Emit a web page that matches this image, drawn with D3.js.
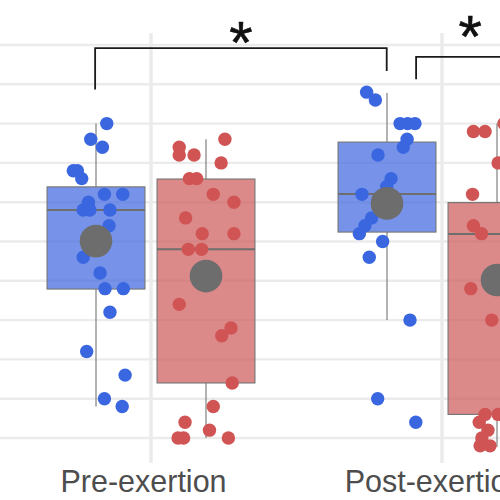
<!DOCTYPE html>
<html>
<head>
<meta charset="utf-8">
<script src="https://cdn.jsdelivr.net/npm/d3@7"></script>
<style>
  html, body { margin: 0; padding: 0; background: #fff; }
  svg { display: block; }
</style>
</head>
<body>
<div id="chart"></div>
<script>
// ---------- data ----------
const categories = ["Pre-exertion", "Post-exertion"];
const groups = ["Group A", "Group B"];
const gridValues = [0, 1, 2, 3, 4, 5, 6, 7, 8, 9, 10];

// individual observations (values) and horizontal jitter (category units)
const preA = [8.0, 7.6, 7.4, 6.8, 6.8, 6.6, 6.2, 6.2, 6.0, 5.8, 5.8, 5.8, 5.4, 4.6, 4.2, 3.8, 3.8, 3.2, 2.2, 1.6, 1.0, 0.8];
const preAJitter = [0.037, -0.018, 0.022, -0.078, -0.064, -0.049, 0.029, 0.092, -0.026, -0.044, -0.021, 0.048, 0.045, -0.044, 0.014, 0.031, 0.094, 0.048, -0.032, 0.1, 0.029, 0.090];

const preB = [7.6, 7.4, 7.2, 7.2, 7.0, 6.6, 6.6, 6.2, 6.0, 5.6, 5.2, 5.2, 4.8, 4.8, 3.4, 2.8, 2.6, 1.4, 0.8, 0.4, 0.2, 0, 0, 0];
const preBJitter = [0.065, -0.092, -0.092, -0.041, 0.052, -0.057, -0.032, 0.025, 0.096, -0.070, -0.013, 0.096, -0.061, -0.015, -0.092, 0.086, 0.054, 0.090, 0.025, -0.072, 0.012, -0.096, -0.077, 0.077];

const postA = [8.8, 8.6, 8.0, 8.0, 8.0, 7.6, 7.4, 7.2, 6.6, 6.4, 6.2, 5.6, 5.4, 5.2, 5.0, 4.6, 3.0, 1.0, 0.4];
const postAJitter = [-0.070, -0.040, 0.045, 0.071, 0.096, 0.069, 0.056, -0.031, 0.014, -0.001, -0.086, -0.053, -0.076, -0.095, -0.015, -0.061, 0.079, -0.032, 0.099];

const postB = [7.8, 7.8, 8.0, 7.0, 6.2, 5.4, 5.2, 3.8, 3.0, 0.6, 0.6, 0.4, 0.2, 0, -0.2, -0.2];
const postBJitter = [-0.081, -0.041, 0.024, 0.004, -0.084, -0.081, -0.053, -0.090, -0.018, -0.041, 0.004, -0.061, -0.031, -0.052, -0.058, -0.024];

// box summaries, order: Pre A, Pre B, Post A, Post B
const boxCategory = ["Pre-exertion", "Pre-exertion", "Post-exertion", "Post-exertion"];
const boxGroup    = ["Group A", "Group B", "Group A", "Group B"];
const boxLower  = [0.8, 0.0, 3.0, -0.22];
const boxQ1     = [3.79, 1.40, 5.24, 0.60];
const boxMedian = [5.80, 4.80, 6.21, 5.19];
const boxQ3     = [6.39, 6.59, 7.53, 5.99];
const boxUpper  = [8.0, 7.6, 8.78, 8.0];
const boxMean   = [5.01, 4.12, 5.97, 4.02];

// significance brackets (x in category units, y in data units)
const bracketX1 = [-0.192, 0.911];
const bracketX2 = [0.81, 1.282];
const bracketTop = [9.92, 9.70];
const bracketLeftEnd = [8.87, 9.13];
const bracketRightEnd = [9.34, 9.13];
const bracketLabel = ["*", "*"];
const bracketLabelY = [10.31, 10.45];

// ---------- setup ----------
const W = 500, H = 500;
const colors = { "Group A": "#3a66e0", "Group B": "#d15454" };
const fills  = { "Group A": "#4169e1", "Group B": "#cd5c5c" };

const svg = d3.select("#chart").append("svg").attr("width", W).attr("height", H);

const x = d3.scaleLinear().domain([0, 1]).range([151, 442]);
const catIndex = d3.scaleOrdinal().domain(categories).range([0, 1]);
const dodge = d3.scaleBand().domain(groups).range([-0.378, 0.378]);
const y = d3.scaleLinear().domain([0, 10]).range([438, 45]);
const boxW = dodge.bandwidth() * 0.89;

const groupCenter = (cat, grp) => catIndex(cat) + dodge(grp) + dodge.bandwidth() / 2;

// ---------- grid ----------
svg.append("g").selectAll("line").data(gridValues).join("line")
  .attr("x1", 0).attr("x2", W)
  .attr("y1", d => y(d)).attr("y2", d => y(d))
  .attr("stroke", "#ebebeb").attr("stroke-width", 2.4);

svg.append("g").selectAll("line").data(categories).join("line")
  .attr("x1", d => x(catIndex(d))).attr("x2", d => x(catIndex(d)))
  .attr("y1", 33).attr("y2", 463)
  .attr("stroke", "#ebebeb").attr("stroke-width", 3.5);

// ---------- boxes ----------
const boxes = boxCategory.map((c, i) => ({
  cat: c, grp: boxGroup[i], lo: boxLower[i], q1: boxQ1[i], med: boxMedian[i],
  q3: boxQ3[i], hi: boxUpper[i], mean: boxMean[i]
}));

const bg = svg.append("g");
boxes.forEach(b => {
  const cx = x(groupCenter(b.cat, b.grp));
  const half = (x(boxW) - x(0)) / 2;
  bg.append("line").attr("x1", cx).attr("x2", cx).attr("y1", y(b.hi)).attr("y2", y(b.q3))
    .attr("stroke", "#757575").attr("stroke-width", 1.1);
  bg.append("line").attr("x1", cx).attr("x2", cx).attr("y1", y(b.q1)).attr("y2", y(b.lo))
    .attr("stroke", "#757575").attr("stroke-width", 1.1);
  bg.append("rect").attr("x", cx - half).attr("width", 2 * half)
    .attr("y", y(b.q3)).attr("height", y(b.q1) - y(b.q3))
    .attr("fill", fills[b.grp]).attr("fill-opacity", 0.72)
    .attr("stroke", "#757575").attr("stroke-width", 1.1);
  bg.append("line").attr("x1", cx - half).attr("x2", cx + half)
    .attr("y1", y(b.med)).attr("y2", y(b.med))
    .attr("stroke", "#6e6e6e").attr("stroke-width", 2);
});

// ---------- points ----------
const series = [
  { cat: "Pre-exertion", grp: "Group A", v: preA, j: preAJitter },
  { cat: "Pre-exertion", grp: "Group B", v: preB, j: preBJitter },
  { cat: "Post-exertion", grp: "Group A", v: postA, j: postAJitter },
  { cat: "Post-exertion", grp: "Group B", v: postB, j: postBJitter }
];
const pts = series.flatMap(s => s.v.map((v, i) => ({ cat: s.cat, grp: s.grp, v, j: s.j[i] })));
svg.append("g").selectAll("circle").data(pts).join("circle")
  .attr("cx", d => x(groupCenter(d.cat, d.grp) + d.j))
  .attr("cy", d => y(d.v))
  .attr("r", 6.7)
  .attr("fill", d => colors[d.grp]);

// ---------- means ----------
svg.append("g").selectAll("circle").data(boxes).join("circle")
  .attr("cx", d => x(groupCenter(d.cat, d.grp)))
  .attr("cy", d => y(d.mean))
  .attr("r", 16.3)
  .attr("fill", "#6d6d6d");

// ---------- brackets ----------
const br = svg.append("g");
bracketX1.forEach((x1, i) => {
  const path = d3.path();
  path.moveTo(x(x1), y(bracketLeftEnd[i]));
  path.lineTo(x(x1), y(bracketTop[i]));
  path.lineTo(x(bracketX2[i]), y(bracketTop[i]));
  path.lineTo(x(bracketX2[i]), y(bracketRightEnd[i]));
  br.append("path").attr("d", path.toString())
    .attr("fill", "none").attr("stroke", "#1a1a1a").attr("stroke-width", 1.8);
  br.append("text")
    .attr("x", x((x1 + bracketX2[i]) / 2))
    .attr("y", y(bracketLabelY[i]) + 30)
    .attr("text-anchor", "middle")
    .attr("font-family", "Liberation Sans, Arial, sans-serif")
    .attr("font-size", 60)
    .attr("fill", "#111")
    .attr("stroke", "#111").attr("stroke-width", 0.6)
    .text(bracketLabel[i]);
});

// ---------- x axis ----------
const xp = d3.scalePoint().domain(categories).range([x(0), x(1)]);
const ax = svg.append("g").attr("transform", "translate(0,491.5)")
  .call(d3.axisBottom(xp).tickSize(0));
ax.select(".domain").remove();
ax.selectAll("text")
  .attr("y", 0).attr("dy", 0).attr("dx", -8)
  .attr("font-family", "Liberation Sans, Arial, sans-serif")
  .attr("font-size", 30.5)
  .attr("fill", "#4d4d4d");
</script>
</body>
</html>
